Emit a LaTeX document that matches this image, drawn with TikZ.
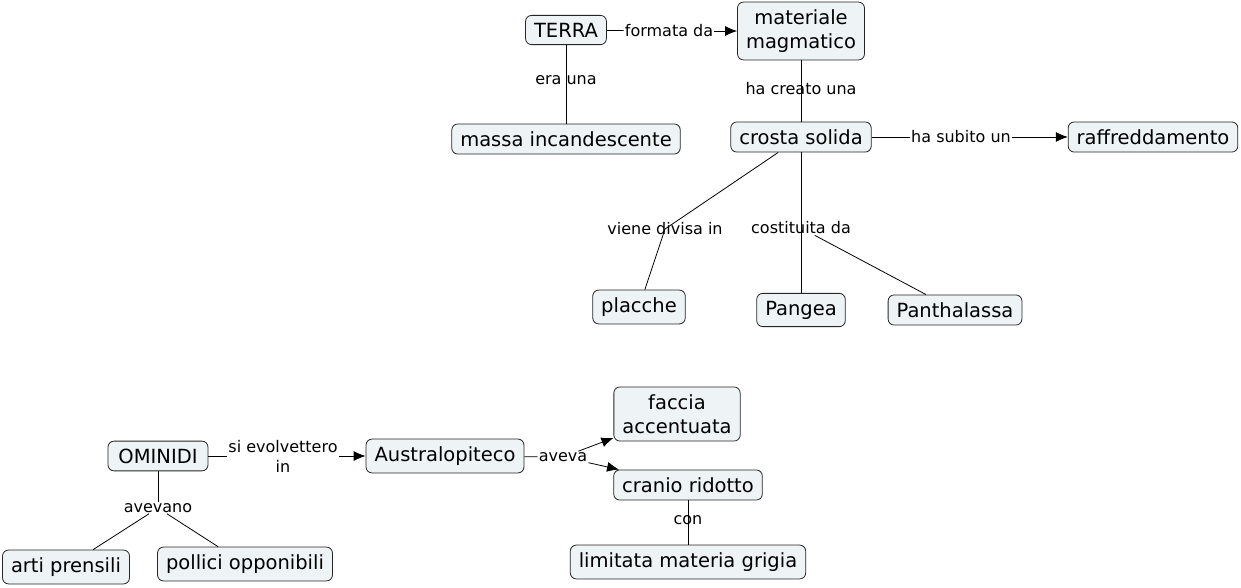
\documentclass[tikz,border=0pt]{standalone}
\usepackage{fontspec}
\setmainfont{DejaVu Sans}
\usetikzlibrary{arrows.meta}
\definecolor{nodefill}{RGB}{238,243,245}
\begin{document}
\begin{tikzpicture}[x=1pt,y=-1pt,
  concept/.style={draw=black!85, fill=nodefill, rounded corners=6pt,
    font=\fontsize{19.5}{24}\selectfont, inner xsep=8.5pt, inner ysep=7.5pt,
    align=center, line width=0.8pt},
  lab/.style={font=\fontsize{16}{20}\selectfont, inner sep=1pt, align=center},
  link/.style={line width=0.8pt, draw=black},
  arr/.style={link, -{Latex[length=12pt,width=10pt]}}]
\useasboundingbox (0,0) rectangle (1241,587);
% concepts
\node[concept] (terra) at (566,30) {TERRA};
\node[concept] (mat) at (801,31) {materiale\\magmatico};
\node[concept] (massa) at (566,139) {massa incandescente};
\node[concept] (crosta) at (801,137) {crosta solida};
\node[concept] (raff) at (1153,137) {raffreddamento};
\node[concept] (placche) at (639,307) {placche};
\node[concept] (pangea) at (801,310) {Pangea};
\node[concept] (panth) at (955,310) {Panthalassa};
\node[concept, inner xsep=10.5pt] (omin) at (158,456) {OMINIDI};
\node[concept] (austr) at (445,456) {Australopiteco};
\node[concept] (faccia) at (677,414) {faccia\\accentuata};
\node[concept] (cranio) at (688,485) {cranio ridotto};
\node[concept] (limit) at (688,562) {limitata materia grigia};
\node[concept] (arti) at (66,567) {arti prensili};
\node[concept] (pollici) at (245,564) {pollici opponibili};
% labels
\node[lab] (l1) at (669,31) {formata da};
\node[lab] (l2) at (566,80) {era una};
\node[lab] (l3) at (801,89) {ha creato una};
\node[lab] (l4) at (961,137) {ha subito un};
\node[lab] (l5) at (665,229) {viene divisa in};
\node[lab] (l6) at (801,228) {costituita da};
\node[lab] (l7) at (283,456) {si evolvettero\\in};
\node[lab] (l8) at (158,508) {avevano};
\node[lab] (l9) at (563,457) {aveva};
\node[lab] (l10) at (688,520) {con};
% connectors
\draw[link] (terra) -- (l1);
\draw[arr] (l1) -- (mat);
\draw[link] (terra) -- (massa);
\draw[link] (mat) -- (crosta);
\draw[link] (crosta) -- (l4);
\draw[arr] (l4) -- (raff);
\draw[link] (crosta) -- (l5.center) -- (placche);
\draw[link] (crosta) -- (pangea);
\draw[link] (l6) -- (panth);
\draw[link] (omin) -- (l7);
\draw[arr] (l7) -- (austr);
\draw[link] (omin) -- (l8);
\draw[link] (l8) -- (arti);
\draw[link] (l8) -- (pollici);
\draw[link] (austr) -- (l9);
\draw[arr] (l9) -- (faccia);
\draw[arr] (l9) -- (cranio);
\draw[link] (cranio) -- (limit);
\end{tikzpicture}
\end{document}
